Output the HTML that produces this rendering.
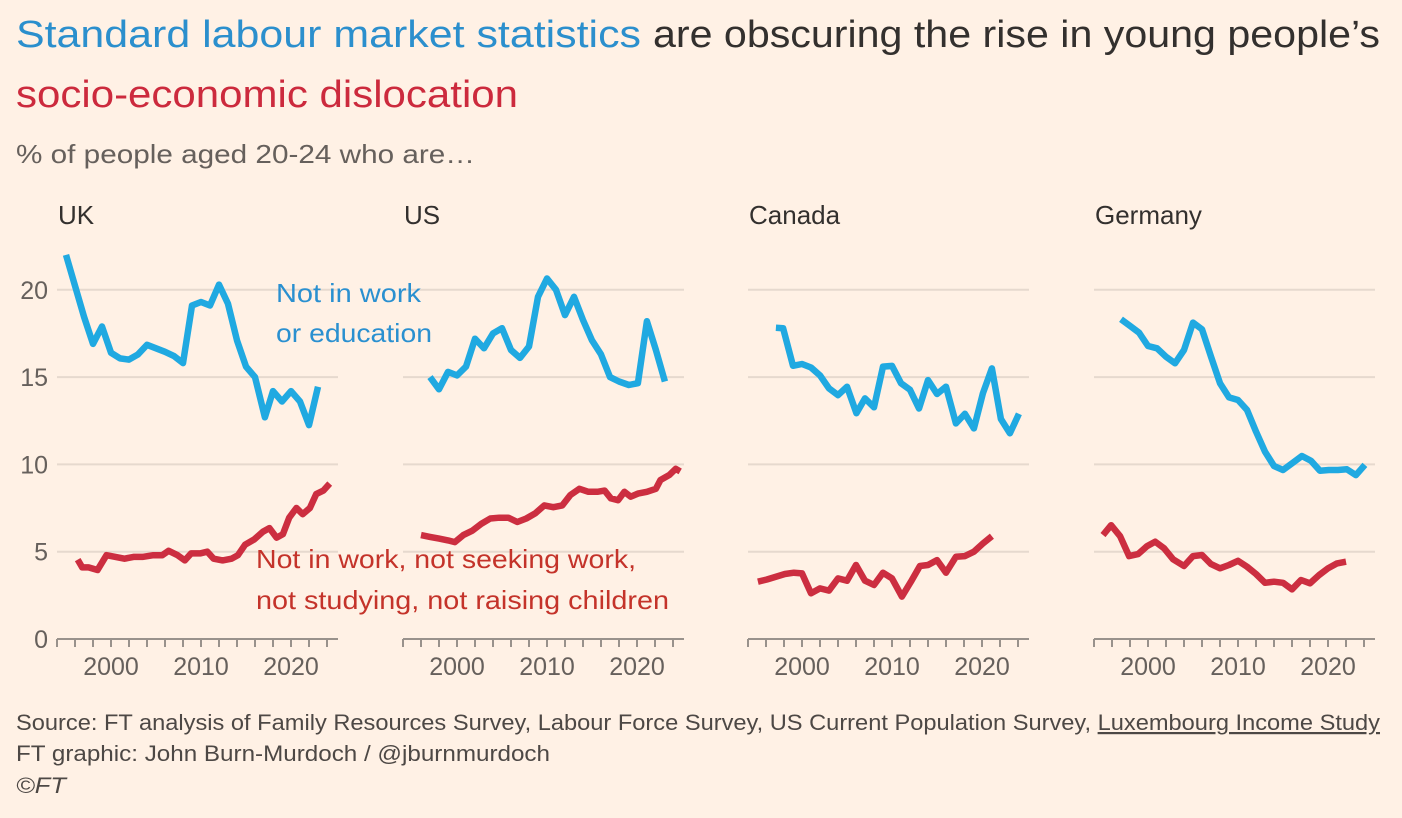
<!DOCTYPE html>
<html><head><meta charset="utf-8">
<style>
html,body{margin:0;padding:0;background:#fff1e5;}
svg{display:block;font-family:"Liberation Sans",sans-serif;}
</style></head>
<body>
<svg id="chart" width="1402" height="818" viewBox="0 0 1402 818" xmlns="http://www.w3.org/2000/svg">
<rect width="1402" height="818" fill="#fff1e5"/>
<text x="16" y="47" font-size="38" fill="#2b8fcd" textLength="625" lengthAdjust="spacingAndGlyphs">Standard labour market statistics</text>
<text x="653" y="47" font-size="38" fill="#33302e" textLength="727" lengthAdjust="spacingAndGlyphs">are obscuring the rise in young people’s</text>
<text x="16" y="107" font-size="38" fill="#cc2a3d" textLength="502" lengthAdjust="spacingAndGlyphs">socio-economic dislocation</text>
<text x="16" y="163" font-size="26" fill="#66605c" textLength="459" lengthAdjust="spacingAndGlyphs">% of people aged 20-24 who are…</text>
<g id="panels"></g>
<text x="276" y="302" font-size="26" fill="#2a90d0" textLength="145" lengthAdjust="spacingAndGlyphs">Not in work</text>
<text x="276" y="342" font-size="26" fill="#2a90d0" textLength="156" lengthAdjust="spacingAndGlyphs">or education</text>
<text x="256" y="568" font-size="26" fill="#c4332a" textLength="380" lengthAdjust="spacingAndGlyphs">Not in work, not seeking work,</text>
<text x="256" y="609" font-size="26" fill="#c4332a" textLength="413" lengthAdjust="spacingAndGlyphs">not studying, not raising children</text>
<text x="16" y="730" font-size="22" fill="#4d4845" textLength="1364" lengthAdjust="spacingAndGlyphs">Source: FT analysis of Family Resources Survey, Labour Force Survey, US Current Population Survey, <tspan text-decoration="underline">Luxembourg Income Study</tspan></text>
<text x="16" y="761" font-size="22" fill="#4d4845" textLength="534" lengthAdjust="spacingAndGlyphs">FT graphic: John Burn-Murdoch / @jburnmurdoch</text>
<text x="16" y="793" font-size="22" font-style="italic" fill="#4d4845" textLength="50" lengthAdjust="spacingAndGlyphs">©FT</text>
</svg>
<script>
const panelNames = ["UK","US","Canada","Germany"];
const yTicks = [0,5,10,15,20];
const xLabels = [2000,2010,2020];
const ukBlueYears = [1995,1997,1998,1999,2000,2001,2002,2003,2004,2005,2006,2007,2008,2009,2010,2011,2012,2013,2014,2015,2016,2017.1,2018,2019,2020,2021,2022,2023];
const ukBlueVals = [22.0,18.46,16.9,17.9,16.4,16.07,16.0,16.3,16.85,16.65,16.45,16.2,15.8,19.1,19.3,19.1,20.3,19.2,17.1,15.6,15.0,12.7,14.2,13.6,14.2,13.6,12.25,14.45];
const ukRedYears = [1996.3,1996.8,1997.5,1998.5,1999.5,2000.5,2001.5,2002.5,2003.5,2004.7,2005.7,2006.4,2007.4,2008.2,2008.9,2009.9,2010.7,2011.4,2012.4,2013.4,2014.1,2014.9,2015.9,2016.9,2017.6,2018.4,2019.1,2019.8,2020.6,2021.3,2022.1,2022.8,2023.6,2024.3];
const ukRedVals = [4.55,4.1,4.1,3.95,4.8,4.7,4.6,4.7,4.7,4.8,4.8,5.05,4.8,4.5,4.9,4.9,5.0,4.6,4.5,4.6,4.8,5.4,5.7,6.15,6.35,5.8,6.0,6.95,7.5,7.15,7.5,8.3,8.5,8.9];
const usBlueYears = [1997,1998,1999,2000,2001,2002,2003,2004,2005,2006,2007,2008,2009,2010,2011,2012,2013,2014,2015,2016,2017,2018,2019.1,2020.1,2021.1,2022.1,2023.1];
const usBlueVals = [15.0,14.3,15.3,15.1,15.6,17.2,16.65,17.5,17.8,16.55,16.1,16.75,19.6,20.65,20.0,18.55,19.6,18.27,17.1,16.3,15.0,14.75,14.55,14.65,18.2,16.55,14.75];
const usRedYears = [1996,1997,1998,1999,1999.75,2000.7,2001.7,2002.7,2003.7,2004.7,2005.7,2006.7,2007.7,2008.7,2009.7,2010.7,2011.7,2012.6,2013.6,2014.6,2015.6,2016.4,2017.1,2017.9,2018.6,2019.3,2020.1,2021.1,2022.1,2022.6,2023.6,2024.3,2024.8];
const usRedVals = [5.95,5.85,5.75,5.65,5.55,5.95,6.2,6.6,6.9,6.95,6.95,6.7,6.9,7.2,7.65,7.55,7.65,8.25,8.6,8.43,8.43,8.5,8.05,7.95,8.43,8.15,8.33,8.43,8.6,9.1,9.4,9.75,9.6];
const caBlueYears = [1997.1,1997.9,1999,2000,2001,2002,2003,2004,2005,2006.05,2007,2008,2009,2010,2011,2012,2013,2014,2015,2016,2017.1,2018.1,2019.1,2020.1,2021.1,2022.1,2023.1,2024.1];
const caBlueVals = [17.83,17.8,15.65,15.75,15.55,15.1,14.35,13.97,14.45,12.93,13.78,13.27,15.6,15.64,14.65,14.27,13.2,14.83,14.03,14.45,12.35,12.9,12.06,14.07,15.5,12.6,11.78,12.9];
const caRedYears = [1995.1,1996.1,1997.1,1998.1,1999.1,2000,2001,2002,2003,2004,2005,2006,2007,2008,2009,2010,2011.1,2012.1,2013.1,2014,2015,2016,2017.1,2018.1,2019.1,2020.1,2021.1];
const caRedVals = [3.28,3.41,3.56,3.72,3.8,3.76,2.62,2.9,2.77,3.47,3.34,4.24,3.34,3.09,3.8,3.47,2.43,3.28,4.18,4.24,4.52,3.8,4.71,4.75,5.0,5.47,5.89];
const deBlueYears = [1997,1998,1999,2000,2001,2002,2003,2004,2005,2006,2007,2008,2009,2010,2011,2012,2013,2014,2015,2016,2017.1,2018.1,2019.1,2020.1,2021.1,2022.1,2023.1,2024.1];
const deBlueVals = [18.31,17.93,17.55,16.78,16.65,16.17,15.79,16.55,18.12,17.74,16.17,14.65,13.84,13.69,13.12,11.88,10.73,9.91,9.68,10.06,10.48,10.21,9.64,9.68,9.68,9.72,9.39,9.97];
const deRedYears = [1995,1995.9,1996.9,1997.9,1998.9,1999.9,2000.8,2001.8,2002.8,2004,2005,2006,2007,2008,2009,2010,2011,2012,2013,2014,2015,2016,2017,2018,2019,2020,2021,2022];
const deRedVals = [5.95,6.52,5.89,4.75,4.86,5.32,5.57,5.19,4.56,4.18,4.75,4.81,4.29,4.05,4.24,4.48,4.14,3.72,3.22,3.28,3.22,2.84,3.38,3.19,3.66,4.05,4.33,4.43];

const blueSeries = [[ukBlueYears,ukBlueVals],[usBlueYears,usBlueVals],[caBlueYears,caBlueVals],[deBlueYears,deBlueVals]];
const redSeries = [[ukRedYears,ukRedVals],[usRedYears,usRedVals],[caRedYears,caRedVals],[deRedYears,deRedVals]];

const NS = "http://www.w3.org/2000/svg";
const panelX0 = [57,403,748,1094];
const panelW = 281;
function xScale(p, yr){ return panelX0[p] + (yr - 1994) * 9; }
function yScale(v){ return 639 - v * 17.46; }
function mk(tag, attrs, parent){
  const e = document.createElementNS(NS, tag);
  for (const k in attrs) e.setAttribute(k, attrs[k]);
  parent.appendChild(e);
  return e;
}
const root = document.getElementById('panels');
panelNames.forEach((name, p) => {
  const g = mk('g', {}, root);
  
  
  const t = mk('text', {x: panelX0[p] + 1, y: 224, 'font-size': 26, fill: '#33302e'}, g);
  t.textContent = name;
  
  
  yTicks.forEach(v => {
    if (v > 0) {
      const gl = mk('line', {x1: panelX0[p], x2: panelX0[p] + panelW, y1: yScale(v), y2: yScale(v), stroke: '#e6d9ce', 'stroke-width': 2}, g);
      
      
    }
    if (p === 0) {
      const yl = mk('text', {x: 48, y: yScale(v) + 9, 'font-size': 25, fill: '#66605c', 'text-anchor': 'end'}, g);
      yl.textContent = v;
      
      
    }
  });
  const ax = mk('line', {x1: panelX0[p], x2: panelX0[p] + panelW, y1: 639, y2: 639, stroke: '#99928c', 'stroke-width': 2}, g);
  
  
  for (let yr = 1994; yr <= 2024; yr += 2) {
    const tk = mk('line', {x1: xScale(p, yr), x2: xScale(p, yr), y1: 639, y2: 647, stroke: '#99928c', 'stroke-width': 2}, g);
    
    
  }
  xLabels.forEach(yr => {
    const xl = mk('text', {x: xScale(p, yr), y: 675, 'font-size': 25, fill: '#66605c', 'text-anchor': 'middle'}, g);
    xl.textContent = yr;
    
    
  });
  const mkLine = (ser, color, nm) => {
    const pts = ser[0].map((yr, i) => xScale(p, yr).toFixed(1) + ',' + yScale(ser[1][i]).toFixed(1)).join(' ');
    const pl = mk('polyline', {points: pts, fill: 'none', stroke: color, 'stroke-width': 6.5, 'stroke-linejoin': 'round'}, g);
    
    
  };
  mkLine(blueSeries[p], '#20a9e1', 'line-not-in-work-or-education');
  mkLine(redSeries[p], '#cc2e40', 'line-dislocated');
});
</script>
</body></html>
